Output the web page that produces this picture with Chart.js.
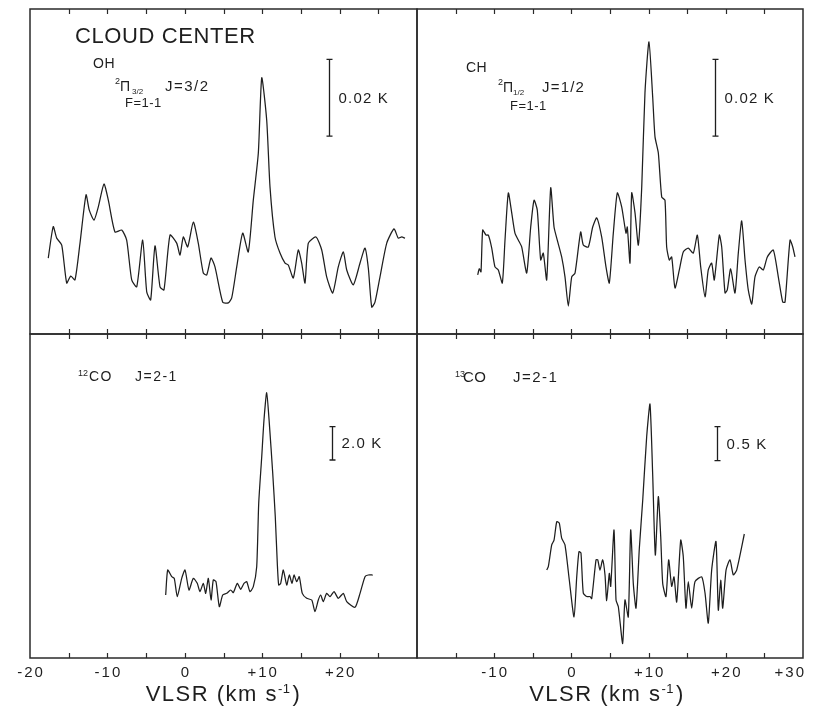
<!DOCTYPE html>
<html><head><meta charset="utf-8">
<script src="https://cdn.jsdelivr.net/npm/chart.js@4/dist/chart.umd.min.js"></script>
<style>
html,body{margin:0;padding:0;background:#fff;width:814px;height:707px;overflow:hidden}
canvas{position:absolute;left:0;top:0}
</style></head><body>
<canvas id="cOH" width="814" height="707"></canvas>
<canvas id="cCH" width="814" height="707"></canvas>
<canvas id="c12" width="814" height="707"></canvas>
<canvas id="c13" width="814" height="707"></canvas>
<script>
// ---- data (velocity in km/s, antenna temperature) ----
const ohVelocity = [-17.64,-17.0,-16.55,-15.9,-15.26,-14.74,-14.19,-13.54,-12.76,-12.34,-11.73,-11.18,-10.44,-9.88,-9.02,-8.15,-7.51,-6.86,-6.21,-5.44,-4.92,-4.41,-3.85,-3.2,-2.69,-1.91,-1.05,-0.62,-0.19,0.37,1.1,1.74,2.39,2.83,3.39,3.9,4.9,5.62,6.06,6.71,7.48,8.2,8.85,9.5,9.94,10.58,11.01,11.65,12.3,12.95,13.37,14.02,14.66,15.1,15.53,15.96,16.95,17.69,18.33,19.11,19.83,20.48,20.92,21.77,22.64,23.28,23.71,24.15,24.57,25.22,26.09,27.03,27.58,28.02,28.45];
const ohTempmK = [0.5,8.7,5.7,3.9,-6.0,-4.2,-5.2,4.4,17.0,13.0,10.4,13.8,19.8,15.6,7.3,7.8,5.2,-5.2,-7.0,5.2,-8.3,-10.4,3.7,-7.0,-7.8,6.5,4.4,1.3,6.0,3.4,9.9,4.4,-3.4,-3.9,0.5,-1.8,-11.0,-11.2,-9.9,-1.8,7.0,2.1,15.6,27.9,47.5,36.5,19.0,6.0,1.8,-0.8,-1.3,-4.7,2.6,-0.8,-6.0,4.4,6.0,2.6,-4.4,-8.6,-1.8,2.1,-2.6,-6.5,-0.8,3.1,-2.1,-12.3,-11.0,-4.4,4.4,8.1,5.7,6.0,5.7];

const chVelocity = [-12.14,-11.93,-11.71,-11.49,-11.06,-10.76,-10.32,-9.9,-9.47,-8.95,-8.6,-8.17,-7.73,-7.31,-6.88,-6.44,-5.79,-5.27,-4.84,-4.42,-3.98,-3.64,-3.2,-2.68,-2.25,-1.83,-1.26,-0.83,-0.4,0.04,0.47,1.2,1.54,2.19,2.76,3.28,3.92,4.48,4.91,5.43,5.95,6.52,7.07,7.24,7.59,7.81,8.24,8.67,9.11,9.53,10.05,10.53,10.83,11.26,11.7,12.12,12.34,12.68,12.99,13.42,13.98,14.49,15.14,15.79,16.31,16.75,17.31,17.73,18.17,18.51,19.16,19.47,19.9,20.19,20.63,21.19,21.62,22.06,22.49,22.91,23.36,23.78,24.34,24.86,25.38,26.15,26.8,27.37,27.67,28.32,28.67,28.96];
const chTempmK = [-3.9,-2.3,-3.1,7.8,6.5,6.5,3.1,-1.8,-2.6,-6.0,5.2,17.5,12.3,7.0,5.2,3.4,-3.4,8.6,15.6,13.0,0,1.8,-5.2,18.8,8.6,5.2,0.8,-4.4,-12.0,-4.4,-3.4,7.3,3.9,3.4,8.6,11.0,6.0,-1.8,-6.0,7.0,17.5,13.8,7.0,8.6,-0.8,17.5,12.3,3.9,19.0,43.6,56.9,42.5,32.1,27.9,16.4,15.6,3.4,0,0.8,-7.3,-2.6,2.1,3.1,1.8,6.5,-1.8,-9.6,-2.6,-0.8,-5.2,6.5,3.4,-8.6,-7.8,-2.3,-8.6,1.8,10.2,0,-7.8,-11.5,-4.4,-1.8,-2.6,0.8,2.6,-4.4,-11.0,-11.0,5.2,3.4,0.8];

const co12Velocity = [-2.47,-2.21,-1.69,-1.36,-0.97,-0.4,0.03,0.54,1.1,1.61,1.96,2.39,2.7,3.04,3.39,3.68,4.03,4.46,4.9,5.41,5.93,6.27,6.78,7.22,7.65,8.0,8.42,8.85,9.29,9.55,9.94,10.23,10.58,10.92,11.36,11.69,11.95,12.13,12.39,12.73,13.17,13.5,13.85,14.11,14.46,14.79,15.18,15.75,16.4,16.82,17.25,17.56,17.89,18.33,18.76,19.28,19.83,20.48,20.92,21.99,22.64,23.28,23.71,24.28];
const co12TempK = [-0.6,0.9,0.5,0.4,-0.7,0.4,0.9,-0.3,0.4,0.1,-0.4,0.1,-0.5,0.4,-0.9,0.3,0.2,-1.3,-0.6,-0.5,-0.3,-0.46,0.1,-0.26,0.1,0.2,-0.4,-0.1,1.1,4.9,7.7,9.9,11.54,9.7,6.7,4.1,1.3,0,0.1,0.9,0,0.6,0.1,0.6,0.2,0.5,-0.5,-0.8,-0.9,-1.6,-0.9,-0.6,-1.0,-0.5,-0.7,-0.4,-0.8,-0.5,-1.0,-1.34,-0.5,0.5,0.6,0.6];

const co13Velocity = [-3.2,-2.99,-2.55,-2.25,-1.9,-1.57,-1.26,-0.83,-0.27,0.34,0.69,0.98,1.24,1.54,1.98,2.41,2.63,3.19,3.41,3.7,4.05,4.35,4.57,4.91,5.09,5.52,5.78,6.08,6.64,6.94,7.37,7.68,8.02,8.37,8.8,9.24,9.75,10.18,10.53,10.87,11.26,11.57,11.83,12.25,12.6,12.99,13.29,13.64,14.16,14.49,14.84,15.14,15.58,16.01,16.88,17.31,17.73,18.17,18.73,19.03,19.34,19.6,20.03,20.54,20.97,21.41,22.4];
const co13TempK = [0.22,0.27,0.59,0.66,0.93,0.91,0.69,0.59,0.07,-0.47,0.12,0.49,0.47,-0.12,-0.17,-0.17,-0.2,0.37,0.37,0.22,0.37,0.15,-0.23,0.17,-0.02,0.81,-0.22,-0.32,-0.86,-0.22,-0.47,0.81,0.02,-0.34,0.54,1.25,2.18,2.66,1.62,0.44,1.3,0.71,0.02,-0.17,0.37,-0.02,0.12,-0.25,0.66,0.42,-0.34,0.05,-0.34,0.05,0.12,-0.12,-0.56,0.22,0.64,-0.37,0.07,-0.34,0.22,0.37,0.15,0.22,0.75];

// axis ticks
const minorTickValues = [-15,-10,-5,0,5,10,15,20,25];
const leftTickValues = [-20,-10,0,10,20];
const leftTickLabels = ['-20','-10','0','+10','+20'];
const rightTickValues = [-10,0,10,20,30];
const rightTickLabels = ['-10','0','+10','+20','+30'];

// scale bars: [velocity, lower, upper]
const ohScaleBar = [18.67, 32.3, 52.3];
const chScaleBar = [18.6, 32.3, 52.3];
const co12ScaleBar = [19.02, 7.5, 9.5];
const co13ScaleBar = [18.9, 1.83, 2.33];

// ---- drawing ----
const INK = '#1e1e1e';
const FONT = "'Liberation Sans', Arial, sans-serif";
const W = 814, H = 707;

function txt(ctx, s, x, y, size, spacing, align) {
  ctx.save();
  ctx.font = size + 'px ' + FONT;
  ctx.fillStyle = INK;
  ctx.textAlign = align || 'left';
  ctx.textBaseline = 'alphabetic';
  try { ctx.letterSpacing = (spacing || 0) + 'px'; } catch (e) {}
  ctx.fillText(s, x, y);
  ctx.restore();
}

function frameTicks(chart, labels) {
  const ctx = chart.ctx, a = chart.chartArea, xs = chart.scales.x;
  ctx.save();
  ctx.strokeStyle = '#2a2a2a';
  ctx.lineWidth = 1.5;
  ctx.strokeRect(a.left, a.top, a.right - a.left, a.bottom - a.top);
  ctx.lineWidth = 1.2;
  ctx.beginPath();
  minorTickValues.forEach(v => {
    const x = Math.round(xs.getPixelForValue(v)) + 0.5;
    ctx.moveTo(x, a.top); ctx.lineTo(x, a.top + 5);
    ctx.moveTo(x, a.bottom); ctx.lineTo(x, a.bottom - 5);
  });
  ctx.stroke();
  ctx.restore();
  if (labels) {
    labels.values.forEach((v, i) => {
      const x = xs.getPixelForValue(v);
      const s = labels.text[i];
      if (v === 30) txt(ctx, s, x + 3, a.bottom + 19, 15, 2, 'right');
      else txt(ctx, s, x + 1, a.bottom + 19, 15, 2, 'center');
    });
    // axis title
    const cx = (xs.getPixelForValue(-20) + xs.getPixelForValue(30)) / 2 + labels.titleShift;
    ctx.save();
    ctx.font = '22px ' + FONT;
    try { ctx.letterSpacing = '1.5px'; } catch (e) {}
    const p1 = 'VLSR (km s', p3 = ')';
    const w1 = ctx.measureText(p1).width;
    ctx.font = '13px ' + FONT;
    const w2 = ctx.measureText('-1').width;
    ctx.font = '22px ' + FONT;
    const w3 = ctx.measureText(p3).width;
    const x0 = cx - (w1 + w2 + w3) / 2;
    const yb = a.bottom + 43;
    ctx.restore();
    txt(ctx, p1, x0, yb, 22, 1.5);
    txt(ctx, '-1', x0 + w1, yb - 8, 13, 0.5);
    txt(ctx, p3, x0 + w1 + w2, yb, 22, 1.5);
  }
}

function scaleBar(chart, bar, label) {
  const ctx = chart.ctx, xs = chart.scales.x, ys = chart.scales.y;
  const x = Math.round(xs.getPixelForValue(bar[0])) + 0.5;
  const y1 = ys.getPixelForValue(bar[1]), y2 = ys.getPixelForValue(bar[2]);
  ctx.save();
  ctx.strokeStyle = INK;
  ctx.lineWidth = 1.3;
  ctx.beginPath();
  ctx.moveTo(x, y1); ctx.lineTo(x, y2);
  ctx.moveTo(x - 3, y1); ctx.lineTo(x + 3, y1);
  ctx.moveTo(x - 3, y2); ctx.lineTo(x + 3, y2);
  ctx.stroke();
  ctx.restore();
  txt(ctx, label, x + 9, (y1 + y2) / 2 + 5, 15, 1.2);
}

function makeChart(id, vel, temp, yMin, yMax, box, deco) {
  const pts = vel.map((v, i) => ({ x: v, y: temp[i] }));
  return new Chart(document.getElementById(id), {
    type: 'line',
    data: { datasets: [{ data: pts, borderColor: INK, borderWidth: 1.25, pointRadius: 0, tension: 0.2, fill: false }] },
    options: {
      responsive: false, animation: false, devicePixelRatio: 1, events: [],
      layout: { padding: { left: box.l, top: box.t, right: W - box.r, bottom: H - box.b } },
      plugins: { legend: { display: false }, tooltip: { enabled: false }, title: { display: false } },
      scales: {
        x: { type: 'linear', min: -20, max: 30, display: false },
        y: { type: 'linear', min: yMin, max: yMax, display: false }
      }
    },
    plugins: [{ id: 'deco_' + id, afterDraw: deco }]
  });
}

// OH (mK)
makeChart('cOH', ohVelocity, ohTempmK, -19.30, 65.45, { l: 30, t: 9, r: 417, b: 334 }, chart => {
  const ctx = chart.ctx;
  frameTicks(chart, null);
  scaleBar(chart, ohScaleBar, '0.02 K');
  txt(ctx, 'CLOUD CENTER', 75, 43, 22, 0.6);
  txt(ctx, 'OH', 93, 68, 14, 0.5);
  txt(ctx, '2', 115, 84, 9, 0);
  txt(ctx, 'Π', 120, 91, 14, 0);
  txt(ctx, '3/2', 132, 94, 8, 0);
  txt(ctx, 'J=3/2', 165, 91, 15, 1.5);
  txt(ctx, 'F=1-1', 125, 107, 13, 0.5);
});

// CH (mK)
makeChart('cCH', chVelocity, chTempmK, -19.30, 65.45, { l: 417, t: 9, r: 803, b: 334 }, chart => {
  const ctx = chart.ctx;
  frameTicks(chart, null);
  scaleBar(chart, chScaleBar, '0.02 K');
  txt(ctx, 'CH', 466, 72, 14, 0.5);
  txt(ctx, '2', 498, 85, 9, 0);
  txt(ctx, 'Π', 503, 92, 14, 0);
  txt(ctx, '1/2', 513, 95, 8, 0);
  txt(ctx, 'J=1/2', 542, 92, 15, 1.2);
  txt(ctx, 'F=1-1', 510, 110, 13, 0.5);
});

// 12CO (K)
makeChart('c12', co12Velocity, co12TempK, -4.38, 15.06, { l: 30, t: 334, r: 417, b: 658 }, chart => {
  const ctx = chart.ctx;
  frameTicks(chart, { values: leftTickValues, text: leftTickLabels, titleShift: 0 });
  scaleBar(chart, co12ScaleBar, '2.0 K');
  txt(ctx, '12', 78, 376, 9, 0);
  txt(ctx, 'CO', 89, 381, 14, 1.5);
  txt(ctx, 'J=2-1', 135, 381, 14, 1.5);
});

// 13CO (K)
makeChart('c13', co13Velocity, co13TempK, -1.0735, 3.691, { l: 417, t: 334, r: 803, b: 658 }, chart => {
  const ctx = chart.ctx;
  frameTicks(chart, { values: rightTickValues, text: rightTickLabels, titleShift: -3 });
  scaleBar(chart, co13ScaleBar, '0.5 K');
  txt(ctx, '13', 455, 377, 9, 0);
  txt(ctx, 'CO', 463, 382, 15, 0.5);
  txt(ctx, 'J=2-1', 513, 382, 15, 1.5);
});
</script>
</body></html>
